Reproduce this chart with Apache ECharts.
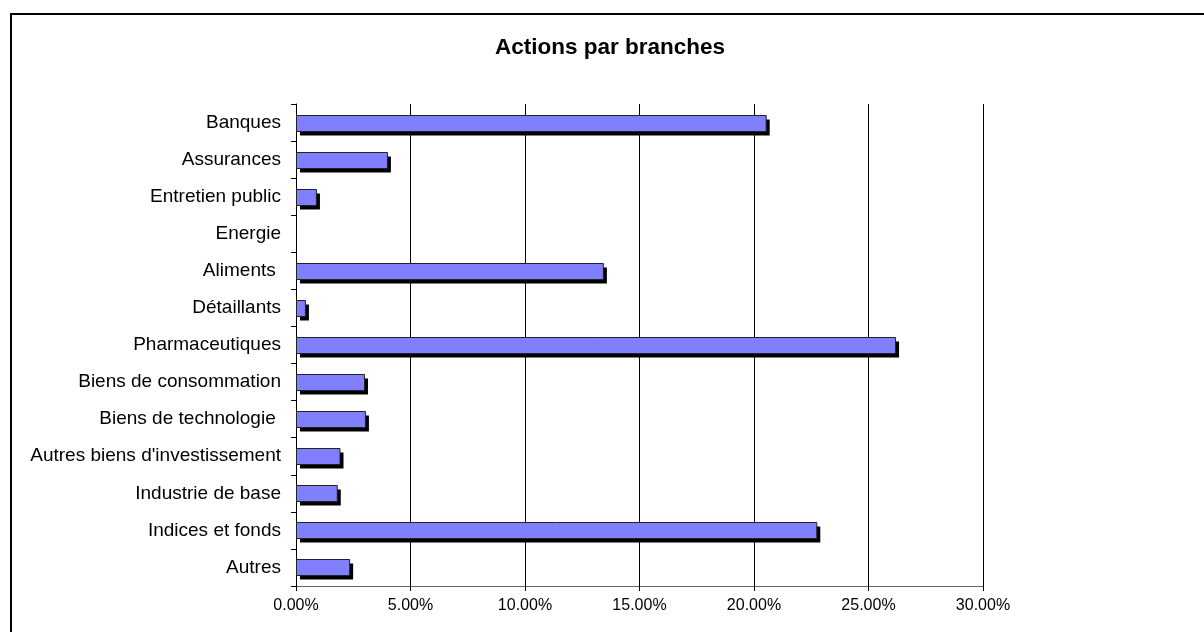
<!DOCTYPE html>
<html>
<head>
<meta charset="utf-8">
<script src="https://cdn.jsdelivr.net/npm/echarts@6/dist/echarts.min.js"></script>
<style>
html,body{margin:0;padding:0;background:#fff;}
#chart{width:1204px;height:632px;}
</style>
</head>
<body>
<div id="chart"></div>
<script>
const title = 'Actions par branches';
const categories = ['Banques','Assurances','Entretien public','Energie','Aliments ','Détaillants','Pharmaceutiques','Biens de consommation','Biens de technologie ',"Autres biens d'investissement",'Industrie de base','Indices et fonds','Autres'];
const values = [20.51, 3.97, 0.87, 0, 13.40, 0.39, 26.16, 2.97, 3.01, 1.90, 1.78, 22.72, 2.32];
const xTicks = {min: 0, max: 30, interval: 5};

const FONT = 'Liberation Sans, Arial, sans-serif';
const chart = echarts.init(document.getElementById('chart'), null, {renderer: 'canvas'});
chart.setOption({
  animation: false,
  backgroundColor: '#ffffff',
  textStyle: {fontFamily: FONT},
  title: {
    text: title,
    left: 495,
    top: 36,
    padding: 0,
    textStyle: {fontFamily: FONT, fontSize: 22.5, fontWeight: 'bold', color: '#000'}
  },
  graphic: [{
    type: 'rect',
    shape: {x: 11, y: 14, width: 1300, height: 800},
    style: {fill: 'none', stroke: '#000', lineWidth: 2},
    silent: true
  }],
  grid: {left: 296, right: 221, top: 104, bottom: 46},
  xAxis: {
    type: 'value',
    min: xTicks.min, max: xTicks.max, interval: xTicks.interval,
    axisLine: {show: true, lineStyle: {color: '#666', width: 1}},
    axisTick: {show: true, length: 5, lineStyle: {color: '#000'}},
    splitLine: {show: true, lineStyle: {color: '#000', width: 1}},
    axisLabel: {
      color: '#000', fontSize: 16, margin: 12, fontFamily: FONT,
      formatter: v => v.toFixed(2) + '%'
    }
  },
  yAxis: {
    type: 'category',
    inverse: true,
    data: categories,
    axisLine: {show: true, lineStyle: {color: '#000', width: 1}},
    axisTick: {show: true, length: 5, lineStyle: {color: '#000'}},
    axisLabel: {color: '#000', fontSize: 19, margin: 15, fontFamily: FONT}
  },
  series: [{
    type: 'custom',
    encode: {x: 1, y: 0},
    data: values.map((v, i) => [i, v]),
    z: 3,
    renderItem: function (params, api) {
      const cat = api.value(0);
      const v = api.value(1);
      const p0 = api.coord([0, cat]);
      const p1 = api.coord([v, cat]);
      const w = p1[0] - p0[0];
      if (!(w > 0.5)) return {type: 'group', children: []};
      const h = 16;
      const x = Math.round(p0[0]) + 0.5;
      const y = Math.round(p0[1] - h / 2) + 0.5;
      return {
        type: 'group',
        children: [
          {type: 'rect', shape: {x: x + 3.5, y: y + 4, width: w, height: h}, style: {fill: '#000'}},
          {type: 'rect', shape: {x: x, y: y, width: w, height: h}, style: {fill: '#8080FF', stroke: '#222', lineWidth: 1}}
        ]
      };
    }
  }]
});
</script>
</body>
</html>
